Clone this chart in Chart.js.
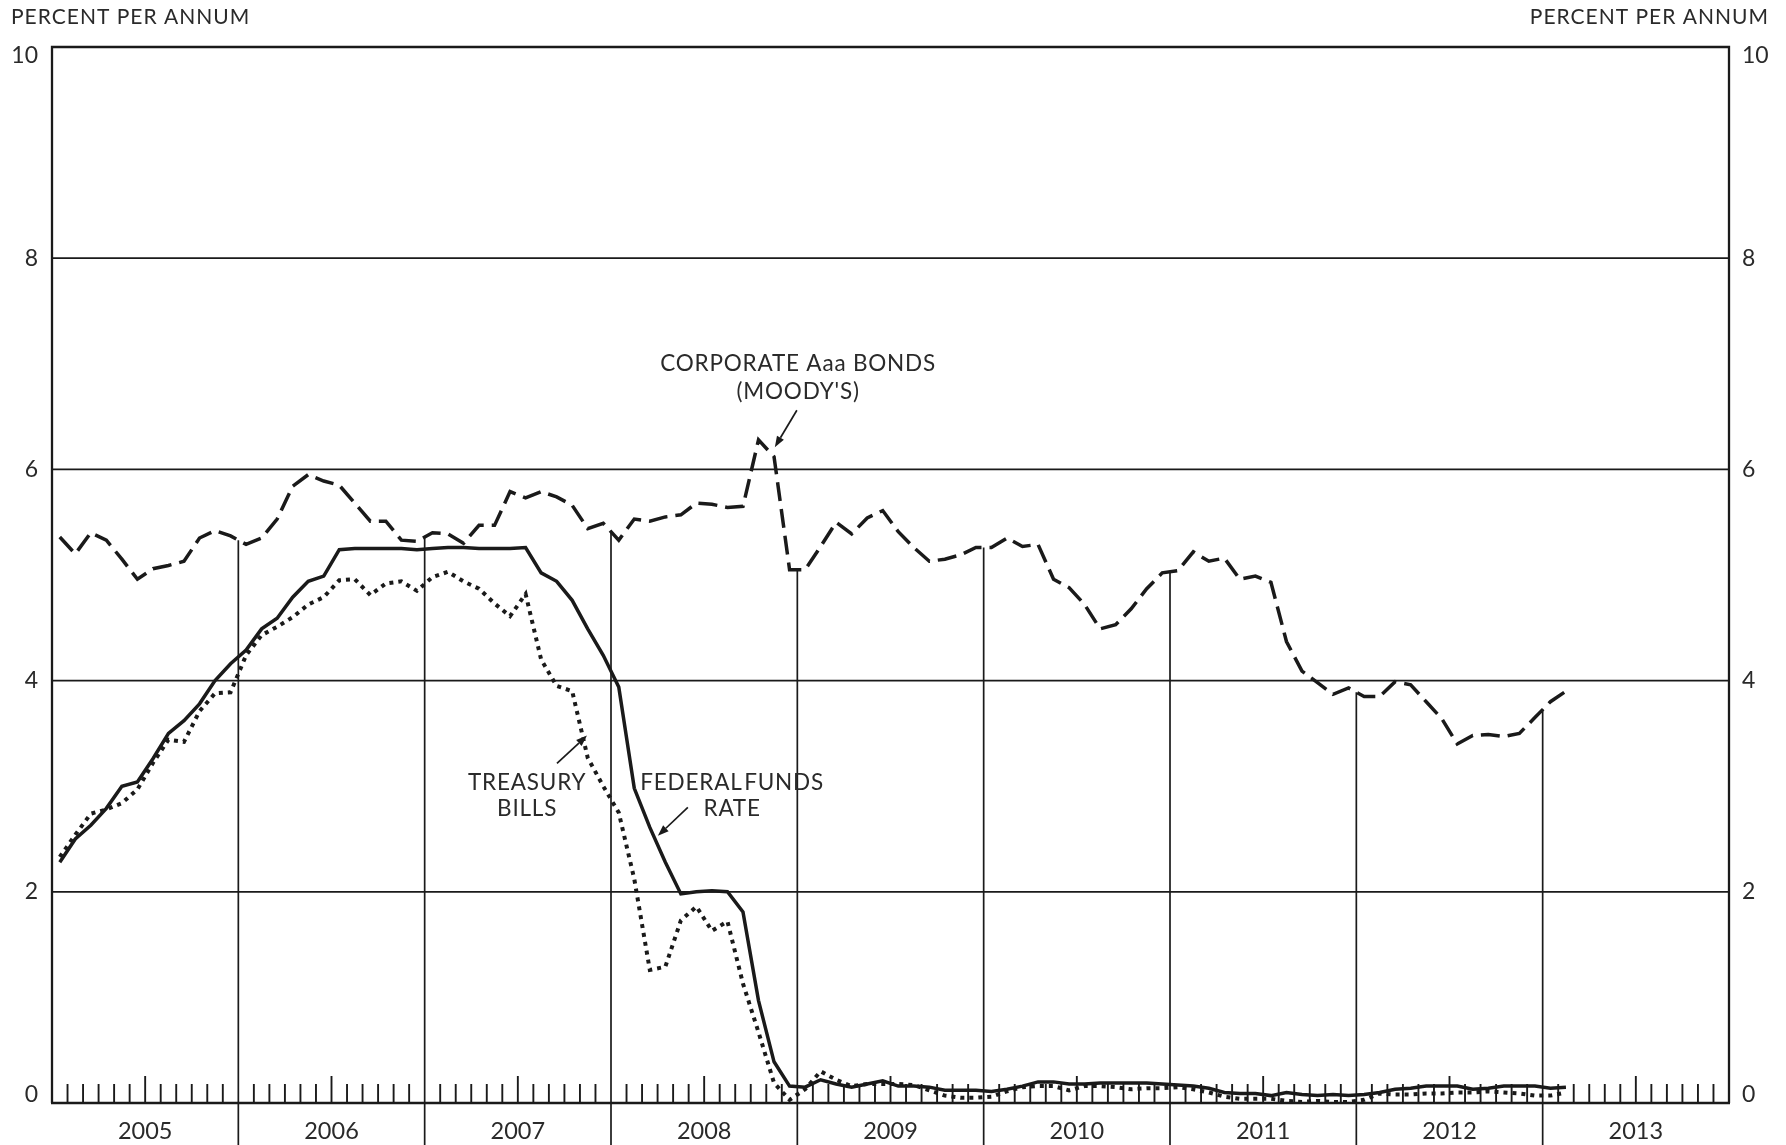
<!DOCTYPE html>
<html>
<head>
<meta charset="utf-8">
<title>Interest Rates, 2005-2013</title>
<script src="https://cdn.jsdelivr.net/npm/chart.js@4.4.1/dist/chart.umd.min.js"></script>
<style>
  html, body { margin: 0; padding: 0; background: #fff; }
  canvas { display: block; }
</style>
</head>
<body>
<canvas id="rates" width="1786" height="1145"></canvas>
<script>
// Calendar years along the bottom axis (12 monthly slots each)
const years = ['2005', '2006', '2007', '2008', '2009', '2010', '2011', '2012', '2013'];
// Value axis labels, percent per annum
const yTickValues = [0, 2, 4, 6, 8, 10];
const axisTitle = 'PERCENT PER ANNUM';

// Monthly averages, January 2005 through February 2013
const corporateAaa = [
  5.36, 5.20, 5.40, 5.33, 5.15, 4.96, 5.06, 5.09, 5.13, 5.35, 5.42, 5.37,
  5.29, 5.35, 5.53, 5.84, 5.95, 5.89, 5.85, 5.68, 5.51, 5.51, 5.33, 5.32,
  5.40, 5.39, 5.30, 5.47, 5.47, 5.79, 5.73, 5.79, 5.74, 5.66, 5.44, 5.49,
  5.33, 5.53, 5.51, 5.55, 5.57, 5.68, 5.67, 5.64, 5.65, 6.28, 6.12, 5.05,
  5.05, 5.27, 5.50, 5.39, 5.54, 5.61, 5.41, 5.26, 5.13, 5.15, 5.19, 5.26,
  5.26, 5.35, 5.27, 5.29, 4.96, 4.88, 4.72, 4.49, 4.53, 4.68, 4.87, 5.02,
  5.04, 5.22, 5.13, 5.16, 4.96, 4.99, 4.93, 4.37, 4.09, 3.98, 3.87, 3.93,
  3.85, 3.85, 3.99, 3.96, 3.80, 3.64, 3.40, 3.48, 3.49, 3.47, 3.50, 3.65,
  3.80, 3.90
];
const fedFunds = [
  2.28, 2.50, 2.63, 2.79, 3.00, 3.04, 3.26, 3.50, 3.62, 3.78, 4.00, 4.16,
  4.29, 4.49, 4.59, 4.79, 4.94, 4.99, 5.24, 5.25, 5.25, 5.25, 5.25, 5.24,
  5.25, 5.26, 5.26, 5.25, 5.25, 5.25, 5.26, 5.02, 4.94, 4.76, 4.49, 4.24,
  3.94, 2.98, 2.61, 2.28, 1.98, 2.00, 2.01, 2.00, 1.81, 0.97, 0.39, 0.16,
  0.15, 0.22, 0.18, 0.15, 0.18, 0.21, 0.16, 0.16, 0.15, 0.12, 0.12, 0.12,
  0.11, 0.13, 0.16, 0.20, 0.20, 0.18, 0.18, 0.19, 0.19, 0.19, 0.19, 0.18,
  0.17, 0.16, 0.14, 0.10, 0.09, 0.09, 0.07, 0.10, 0.08, 0.07, 0.08, 0.07,
  0.08, 0.10, 0.13, 0.14, 0.16, 0.16, 0.16, 0.13, 0.14, 0.16, 0.16, 0.16,
  0.14, 0.15
];
const treasuryBills = [
  2.33, 2.54, 2.74, 2.78, 2.84, 2.97, 3.22, 3.44, 3.42, 3.71, 3.88, 3.89,
  4.24, 4.43, 4.51, 4.60, 4.72, 4.79, 4.95, 4.96, 4.81, 4.92, 4.94, 4.85,
  4.98, 5.03, 4.94, 4.87, 4.73, 4.61, 4.82, 4.20, 3.95, 3.90, 3.27, 3.00,
  2.75, 2.12, 1.26, 1.29, 1.73, 1.86, 1.63, 1.72, 1.13, 0.67, 0.19, 0.03,
  0.13, 0.30, 0.22, 0.16, 0.18, 0.18, 0.18, 0.17, 0.12, 0.07, 0.05, 0.05,
  0.06, 0.11, 0.15, 0.16, 0.16, 0.12, 0.16, 0.16, 0.15, 0.13, 0.14, 0.14,
  0.15, 0.13, 0.10, 0.06, 0.04, 0.04, 0.04, 0.02, 0.01, 0.02, 0.01, 0.01,
  0.03, 0.09, 0.08, 0.08, 0.09, 0.09, 0.10, 0.10, 0.11, 0.10, 0.09, 0.07,
  0.07, 0.10
];

// Each monthly value sits in the middle of its month slot
const monthPoints = values => values.map((v, i) => ({ x: i + 0.5, y: v }));
const MONTHS = years.length * 12;

const INK = '#1a1a1a';
const TEXT = '#2a2a2a';
const FONT = 'Lato, "Open Sans", "DejaVu Sans", sans-serif';

// Series call-outs: text lines and arrow, placed in data units
const callouts = [
  { lines: ['CORPORATE Aaa BONDS', "(MOODY'S)"], x: 48.05, y: [7.0, 6.74],
    wordGap: 0, arrow: [[47.97, 6.56], [46.55, 6.21]] },
  { lines: ['TREASURY', 'BILLS'], x: 30.6, y: [3.035, 2.79],
    wordGap: 0, arrow: [[32.52, 3.215], [34.45, 3.48]] },
  { lines: ['FEDERAL FUNDS', 'RATE'], x: 43.8, y: [3.035, 2.79],
    wordGap: -5, arrow: [[40.95, 2.80], [39.02, 2.53]] }
];

function seg(ctx, x1, y1, x2, y2) {
  ctx.beginPath();
  ctx.moveTo(x1, y1);
  ctx.lineTo(x2, y2);
  ctx.stroke();
}

function setFont(ctx, size, spacing, wordGap) {
  ctx.font = size + 'px ' + FONT;
  if ('letterSpacing' in ctx) ctx.letterSpacing = spacing + 'px';
  if ('wordSpacing' in ctx) ctx.wordSpacing = (wordGap || 0) + 'px';
}

// Frame, grid, year dividers, month ticks and axis text
const chartFrame = {
  id: 'chartFrame',
  beforeDatasetsDraw(chart) {
    const { ctx, chartArea: a, scales: { x, y } } = chart;
    const H = chart.height;
    ctx.save();
    ctx.strokeStyle = INK;
    ctx.lineCap = 'butt';

    // horizontal grid at interior ticks
    ctx.lineWidth = 1.8;
    yTickValues.forEach(v => {
      if (v > y.min && v < y.max) {
        const py = y.getPixelForValue(v);
        seg(ctx, a.left, py, a.right, py);
      }
    });

    // year dividers rise from the bottom edge up to the bond curve
    ctx.lineWidth = 1.7;
    for (let k = 1; k < years.length; k++) {
      const m = k * 12;
      const px = x.getPixelForValue(m);
      const top = m < corporateAaa.length
        ? (corporateAaa[m - 1] + corporateAaa[m]) / 2
        : null;
      const yTop = top === null ? a.bottom : y.getPixelForValue(top);
      seg(ctx, px, yTop, px, H);
    }

    // monthly ticks along the baseline, taller at mid-year
    ctx.lineWidth = 1.9;
    for (let m = 1; m < MONTHS; m++) {
      if (m % 12 === 0) continue;
      const px = x.getPixelForValue(m);
      const len = (m % 12 === 6) ? 27 : 19;
      seg(ctx, px, a.bottom, px, a.bottom - len);
    }

    // plot box: top, left, right and baseline
    ctx.lineWidth = 2.3;
    ctx.beginPath();
    ctx.moveTo(a.left, a.bottom);
    ctx.lineTo(a.left, a.top);
    ctx.lineTo(a.right, a.top);
    ctx.lineTo(a.right, a.bottom);
    ctx.stroke();
    seg(ctx, a.left - 1, a.bottom, a.right + 1, a.bottom);

    // value labels on both sides
    ctx.fillStyle = TEXT;
    setFont(ctx, 23, 0);
    ctx.textBaseline = 'middle';
    yTickValues.forEach(v => {
      let py = y.getPixelForValue(v);
      if (v === y.max) py += 9;
      if (v === y.min) py -= 8;
      ctx.textAlign = 'right';
      ctx.fillText(String(v), a.left - 14, py);
      ctx.textAlign = 'left';
      ctx.fillText(String(v), a.right + 13, py);
    });

    // unit captions
    setFont(ctx, 21, 1);
    ctx.textAlign = 'left';
    ctx.fillText(axisTitle, 11, 17);
    ctx.textAlign = 'right';
    ctx.fillText(axisTitle, 1769, 17);

    // year labels centred in each year slot
    setFont(ctx, 23.5, 0);
    ctx.textAlign = 'center';
    years.forEach((yr, i) => {
      ctx.fillText(yr, x.getPixelForValue(i * 12 + 6), a.bottom + 28);
    });
    ctx.restore();
  },
  afterDatasetsDraw(chart) {
    const { ctx, scales: { x, y } } = chart;
    ctx.save();
    ctx.fillStyle = TEXT;
    ctx.strokeStyle = INK;
    ctx.textAlign = 'center';
    ctx.textBaseline = 'middle';
    callouts.forEach(c => {
      setFont(ctx, 22.5, 0.8, c.wordGap);
      c.lines.forEach((t, i) => {
        ctx.fillText(t, x.getPixelForValue(c.x), y.getPixelForValue(c.y[i]));
      });
      const [p0, p1] = c.arrow;
      const x0 = x.getPixelForValue(p0[0]), y0 = y.getPixelForValue(p0[1]);
      const x1 = x.getPixelForValue(p1[0]), y1 = y.getPixelForValue(p1[1]);
      const ang = Math.atan2(y1 - y0, x1 - x0);
      const headLen = 11, headW = 4;
      const bx = x1 - headLen * Math.cos(ang), by = y1 - headLen * Math.sin(ang);
      ctx.lineWidth = 1.7;
      seg(ctx, x0, y0, bx, by);
      ctx.beginPath();
      ctx.moveTo(x1, y1);
      ctx.lineTo(bx + headW * Math.sin(ang), by - headW * Math.cos(ang));
      ctx.lineTo(bx - headW * Math.sin(ang), by + headW * Math.cos(ang));
      ctx.closePath();
      ctx.fillStyle = INK;
      ctx.fill();
      ctx.fillStyle = TEXT;
    });
    ctx.restore();
  }
};

new Chart(document.getElementById('rates'), {
  type: 'line',
  data: {
    datasets: [
      {
        label: 'Corporate Aaa bonds (Moody\'s)',
        data: monthPoints(corporateAaa),
        borderColor: INK,
        borderWidth: 3.5,
        borderDash: [19, 8],
        pointRadius: 0,
        tension: 0
      },
      {
        label: 'Federal funds rate',
        data: monthPoints(fedFunds),
        borderColor: INK,
        borderWidth: 3.5,
        pointRadius: 0,
        tension: 0
      },
      {
        label: 'Treasury bills',
        data: monthPoints(treasuryBills),
        borderColor: INK,
        borderWidth: 4,
        borderDash: [4, 5],
        pointRadius: 0,
        tension: 0
      }
    ]
  },
  options: {
    responsive: false,
    devicePixelRatio: 1,
    animation: false,
    events: [],
    layout: { padding: { left: 52, right: 57, top: 47, bottom: 42 } },
    plugins: { legend: { display: false }, tooltip: { enabled: false } },
    scales: {
      x: { type: 'linear', min: 0, max: MONTHS, display: false },
      y: { type: 'linear', min: 0, max: 10, display: false }
    }
  },
  plugins: [chartFrame]
});
</script>
</body>
</html>
